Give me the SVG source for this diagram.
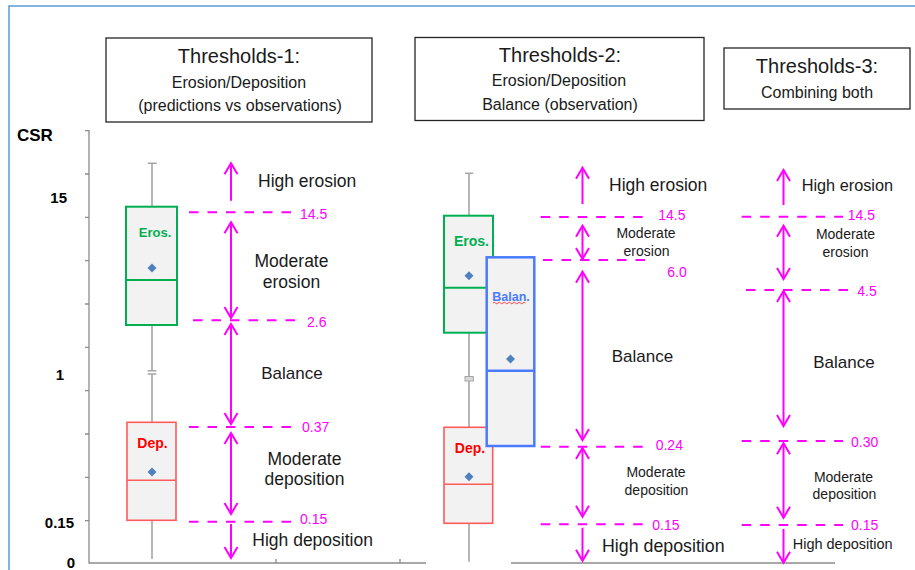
<svg xmlns="http://www.w3.org/2000/svg" width="915" height="570" viewBox="0 0 915 570">
<defs>
<style>
text{font-family:"Liberation Sans",Arial,sans-serif;fill:#1a1a1a}
.tb{fill:#fff;stroke:#262626;stroke-width:1.3}
.t1{font-size:20px;text-anchor:middle}
.t2{font-size:16px;text-anchor:middle}
.lbl{font-size:17.5px}
.sm{font-size:14px;text-anchor:middle}
.num{font-size:14px;fill:#FF00FF}
.ax{stroke:#8c8c8c;stroke-width:1.3;fill:none}
.tk{font-size:15px;font-weight:bold;text-anchor:end;fill:#000}
.wh{stroke:#a6a6a6;stroke-width:1.6;fill:none}
.box{fill:#F2F2F2}
.g{stroke:#00B050;stroke-width:2}
.r{stroke:#FF5B5B;stroke-width:1.6}
.b{stroke:#4A7BFF;stroke-width:2.5}
.dia{fill:#4F81BD}
.dash{stroke:#FF00FF;stroke-width:2;stroke-dasharray:9.5 9;fill:none}
.arr{stroke:#FF00FF;stroke-width:2;fill:none}
.one{marker-end:url(#ah)}
.two{marker-start:url(#ah);marker-end:url(#ah)}
</style>
<marker id="ah" markerUnits="userSpaceOnUse" viewBox="-13 -8 15 16" refX="0" refY="0" markerWidth="15" markerHeight="16" orient="auto-start-reverse">
<path d="M-11,-6.5 L0,0 L-11,6.5" fill="none" stroke="#FF00FF" stroke-width="2"/>
</marker>
</defs>
<rect width="915" height="570" fill="#fff"/>
<g id="frame"><path d="M9,570 V6 H915" fill="none" stroke="#5B9BD5" stroke-width="1.5"/></g>

<g id="title1"><rect class="tb" x="106" y="38" width="266" height="84"/>
<text class="t1" x="239" y="62.5">Thresholds-1:</text>
<text class="t2" x="239" y="87.5">Erosion/Deposition</text>
<text class="t2" x="240" y="111">(predictions vs observations)</text></g>
<g id="title2"><rect class="tb" x="415" y="37.5" width="289" height="83"/>
<text class="t1" x="560" y="61.5">Thresholds-2:</text>
<text class="t2" x="559" y="86">Erosion/Deposition</text>
<text class="t2" x="560" y="110">Balance (observation)</text></g>
<g id="title3"><rect class="tb" x="724" y="48" width="186" height="61"/>
<text class="t1" x="817" y="73.3">Thresholds-3:</text>
<text class="t2" x="817" y="98.3">Combining both</text></g>

<g id="axis">
<text x="17" y="141" style="font-size:17px;font-weight:bold;fill:#000">CSR</text>
<path class="ax" d="M85,130.7 H89 V563 H426 M85,174 H89 M85,217.3 H89 M85,260.7 H89 M85,304 H89 M85,347.3 H89 M85,390.7 H89 M85,434 H89 M85,477.3 H89 M85,520.7 H89 M276,559 V563 M400,559 V563 M511,563 H835"/>
<text class="tk" x="67" y="202.7">15</text>
<text class="tk" x="64" y="380">1</text>
<text class="tk" x="74" y="528">0.15</text>
<text class="tk" x="75" y="567.5">0</text>
</g>

<g id="boxplot1">
<path class="wh" d="M152,163.3 V207 M147.7,163.3 H156.7 M152,325 V370.7 M147.7,370.7 H156.3 M147.7,374 H156.3 M152,374 V422 M152,520 V559"/>
<rect class="box g" x="126" y="206.7" width="51" height="118.3"/>
<line class="g" x1="126" y1="280" x2="177" y2="280"/>
<path class="dia" d="M152,263.5 L156.5,268 L152,272.5 L147.5,268 Z"/>
<text x="155" y="237" style="font-size:13px;font-weight:bold;fill:#00B050;text-anchor:middle">Eros.</text>
<rect class="box r" x="127" y="422.3" width="49" height="98"/>
<line class="r" x1="127" y1="480.3" x2="176" y2="480.3"/>
<path class="dia" d="M152,467.5 L156.5,472 L152,476.5 L147.5,472 Z"/>
<text x="152.5" y="448" style="font-size:14px;font-weight:bold;fill:#FF0000;text-anchor:middle">Dep.</text>
</g>

<g id="boxplot2">
<path class="wh" d="M469,173.3 V215.7 M465,173.3 H473.3 M469,333 V376.5 M469,381 V427 M469,523.5 V561.7"/>
<rect x="465" y="376.5" width="8.3" height="4.5" fill="#d9d9d9" stroke="#a6a6a6" stroke-width="1"/>
<rect class="box g" x="444" y="215.7" width="49" height="117"/>
<line class="g" x1="444" y1="287.7" x2="493" y2="287.7"/>
<path class="dia" d="M469,271.2 L473.5,275.7 L469,280.2 L464.5,275.7 Z"/>
<text x="471.5" y="246" style="font-size:14px;font-weight:bold;fill:#00B050;text-anchor:middle">Eros.</text>
<rect class="box r" x="444" y="427.3" width="48.7" height="96"/>
<line class="r" x1="444" y1="484.3" x2="492.7" y2="484.3"/>
<path class="dia" d="M469,472.2 L473.5,476.7 L469,481.2 L464.5,476.7 Z"/>
<text x="470" y="453.3" style="font-size:14px;font-weight:bold;fill:#FF0000;text-anchor:middle">Dep.</text>
<rect class="box b" x="486.7" y="257.3" width="47.6" height="188.7"/>
<line class="b" x1="486.7" y1="370.7" x2="534.3" y2="370.7"/>
<path class="dia" d="M510.5,354.5 L515,359 L510.5,363.5 L506,359 Z"/>
<text x="511" y="300.7" style="font-size:12.5px;font-weight:bold;fill:#4A7BFF;text-anchor:middle">Balan.</text>
<path d="M493,303 q1.25,-1.5 2.5,0 t2.5,0 t2.5,0 t2.5,0 t2.5,0 t2.5,0 t2.5,0 t2.5,0 t2.5,0 t2.5,0 t2.5,0 t2.5,0 t2.5,0" fill="none" stroke="#FF3030" stroke-width="0.9"/>
</g>

<g id="labels1">
<text class="lbl" x="258" y="186.5">High erosion</text>
<text class="lbl" x="291.5" y="267.3" text-anchor="middle">Moderate</text>
<text class="lbl" x="291.5" y="288.3" text-anchor="middle">erosion</text>
<text class="lbl" x="292" y="379" text-anchor="middle" style="font-size:17px">Balance</text>
<text class="lbl" x="304.5" y="465" text-anchor="middle">Moderate</text>
<text class="lbl" x="304.5" y="485" text-anchor="middle">deposition</text>
<text class="lbl" x="252.3" y="545.7">High deposition</text>
<text class="num" x="300" y="219">14.5</text>
<text class="num" x="307" y="326.5">2.6</text>
<text class="num" x="302" y="432">0.37</text>
<text class="num" x="300" y="524">0.15</text>
</g>

<g id="labels2">
<text class="lbl" x="609" y="190.7">High erosion</text>
<text class="sm" x="646" y="238.3">Moderate</text>
<text class="sm" x="646.5" y="256">erosion</text>
<text class="lbl" x="642.5" y="362.3" text-anchor="middle" style="font-size:17px">Balance</text>
<text class="sm" x="656" y="477.3">Moderate</text>
<text class="sm" x="656.5" y="495">deposition</text>
<text class="lbl" x="602" y="551.7" style="font-size:17.8px">High deposition</text>
<text class="num" x="658.3" y="220">14.5</text>
<text class="num" x="667.3" y="276.5">6.0</text>
<text class="num" x="655.7" y="450">0.24</text>
<text class="num" x="652.3" y="530">0.15</text>
</g>

<g id="labels3">
<text class="lbl" x="801.7" y="190.5" style="font-size:16.3px">High erosion</text>
<text class="sm" x="845.5" y="239">Moderate</text>
<text class="sm" x="845.5" y="256.7">erosion</text>
<text class="lbl" x="844" y="368.3" text-anchor="middle" style="font-size:17px">Balance</text>
<text class="sm" x="843.5" y="481.7">Moderate</text>
<text class="sm" x="844.5" y="499">deposition</text>
<text class="lbl" x="792.7" y="549" style="font-size:14.5px">High deposition</text>
<text class="num" x="847.7" y="220">14.5</text>
<text class="num" x="857.3" y="295.5">4.5</text>
<text class="num" x="851" y="446.5">0.30</text>
<text class="num" x="851" y="530">0.15</text>
</g>

<g id="connectors">
<line class="dash" x1="189" y1="212.3" x2="292" y2="212.3"/>
<line class="dash" x1="193" y1="320.3" x2="296" y2="320.3"/>
<line class="dash" x1="189" y1="427" x2="292" y2="427"/>
<line class="dash" x1="189" y1="521.7" x2="292" y2="521.7"/>
<line class="dash" x1="540.7" y1="217" x2="643" y2="217"/>
<line class="dash" x1="543" y1="260" x2="647" y2="260"/>
<line class="dash" x1="540.7" y1="446.7" x2="643" y2="446.7"/>
<line class="dash" x1="540.7" y1="524.3" x2="643" y2="524.3"/>
<line class="dash" x1="741.7" y1="216.7" x2="843" y2="216.7"/>
<line class="dash" x1="746" y1="290" x2="848" y2="290"/>
<line class="dash" x1="741.7" y1="441" x2="843" y2="441"/>
<line class="dash" x1="741.7" y1="525" x2="843" y2="525"/>

<line class="arr one" x1="231" y1="200.7" x2="231" y2="163.3"/>
<line class="arr two" x1="231" y1="222.3" x2="231" y2="318"/>
<line class="arr two" x1="231" y1="324" x2="231" y2="424"/>
<line class="arr two" x1="231" y1="433" x2="231" y2="514"/>
<line class="arr one" x1="231" y1="524" x2="231" y2="558"/>

<line class="arr one" x1="582.5" y1="204" x2="582.5" y2="167.7"/>
<line class="arr two" x1="582.5" y1="225.7" x2="582.5" y2="259"/>
<line class="arr two" x1="582.5" y1="271.7" x2="582.5" y2="440"/>
<line class="arr two" x1="582.5" y1="448" x2="582.5" y2="516.7"/>
<line class="arr one" x1="582.5" y1="527.7" x2="582.5" y2="560.7"/>

<line class="arr one" x1="783.5" y1="205" x2="783.5" y2="170"/>
<line class="arr two" x1="783.5" y1="225.7" x2="783.5" y2="279"/>
<line class="arr two" x1="783.5" y1="291" x2="783.5" y2="426"/>
<line class="arr two" x1="783.5" y1="443.3" x2="783.5" y2="517.7"/>
<line class="arr one" x1="783.5" y1="529" x2="783.5" y2="562.7"/>
</g>
</svg>
